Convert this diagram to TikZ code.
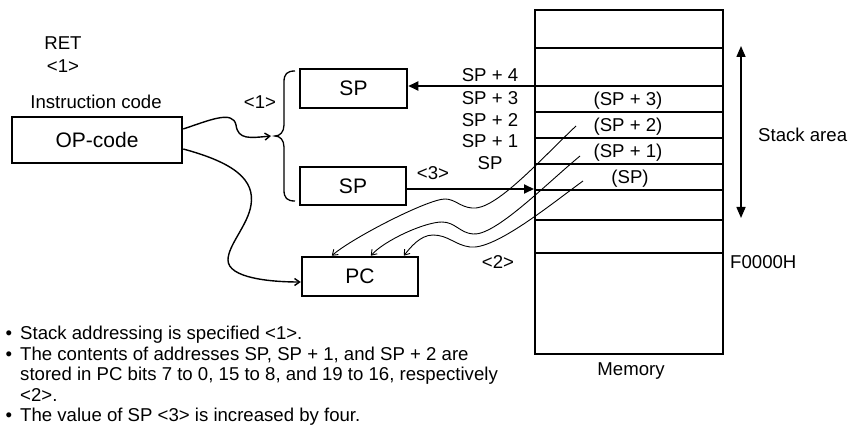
\documentclass[tikz,border=0pt]{standalone}
\usepackage{fontspec}
\setmainfont{Liberation Sans}
\usetikzlibrary{arrows.meta,calc}
\tikzset{
  lbl/.style={font=\fontsize{18.6}{21.5}\selectfont, inner sep=0pt, anchor=base},
  box/.style={draw, line width=2.5pt, inner sep=0pt, font=\fontsize{21}{24}\selectfont},
  thinline/.style={line width=1.2pt},
  thickline/.style={line width=2.2pt},
  bigarrow/.style={line width=1.8pt, -{Triangle[length=10pt,width=9pt]}},
  wave/.style={line width=0.9pt, -{Straight Barb[length=5pt,width=7pt]}},
  wave2/.style={line width=1.4pt, -{Straight Barb[length=5pt,width=7pt]}}
}
\begin{document}
\begin{tikzpicture}[x=1pt,y=-1pt]
\useasboundingbox (0,0) rectangle (850,427);

% texts at left
\node[lbl] (ret) at (63,49.7) {RET};
\node[lbl] (ret1) at (63,72.7) {<1>};
\node[lbl] (ic) at (96,108.7) {Instruction code};
\node[lbl] (one) at (260,108.7) {<1>};

% boxes
\node[box, minimum width=170pt, minimum height=46pt] (op) at (97,140) {OP-code};
\node[box, minimum width=107pt, minimum height=39pt] (sp1) at (353.5,88.5) {SP};
\node[box, minimum width=106pt, minimum height=38pt] (sp2) at (353,186) {SP};
\node[box, minimum width=116pt, minimum height=39pt] (pc) at (360,276.5) {PC};

% memory
\node[draw, line width=2pt, inner sep=0pt, minimum width=188pt, minimum height=344pt] (mem) at (629,182) {};
\foreach \yy in {48,86,190,220,253} {
  \draw[thinline] (mem.west |- 0,\yy) -- (mem.east |- 0,\yy);
}
\foreach \yy in {112,138,164} {
  \draw[thickline] (mem.west |- 0,\yy) -- (mem.east |- 0,\yy);
}
\node[lbl] (m3) at (628,105.5) {(SP + 3)};
\node[lbl] (m2) at (628,131.5) {(SP + 2)};
\node[lbl] (m1) at (628,157.5) {(SP + 1)};
\node[lbl] (m0) at (630,183.5) {(SP)};
\node[lbl] (memlbl) at (631,375.7) {Memory};

% SP labels
\node[lbl] (s4) at (490,81.7) {SP + 4};
\node[lbl] (s3) at (490,104.7) {SP + 3};
\node[lbl] (s2) at (490,126.7) {SP + 2};
\node[lbl] (s1) at (490,147.7) {SP + 1};
\node[lbl] (s0) at (490,169.7) {SP};
\node[lbl] (three) at (433,179.7) {<3>};
\node[lbl] (two) at (498,268.7) {<2>};

% stack area
\coordinate (sa1) at (741,46);
\coordinate (sa2) at (741,218);
\draw[line width=1.5pt, {Triangle[length=11pt,width=9pt]}-{Triangle[length=11pt,width=9pt]}] (sa1) -- (sa2);
\node[lbl, anchor=base west] (stk) at (758,141.7) {Stack area};
\node[lbl, anchor=base west] (f0) at (730,268.7) {F0000H};

% arrows SP <-> memory
\draw[bigarrow] (mem.west |- 0,86) -- (sp1.east |- 0,86);
\draw[bigarrow] (sp2.east |- 0,189) -- (mem.west |- 0,189);

% brace
\coordinate (bt) at (275,136);
\draw[line width=1.3pt] (295,71) .. controls (287,71) and (284,74) .. (284,82) -- (284,125)
  .. controls (284,132) and (280,136) .. (bt)
  .. controls (280,136) and (284,140) .. (284,147) -- (284,190)
  .. controls (284,198) and (287,201) .. (295,201);

% curves from OP-code
\draw[wave2] (op.east |- 0,129) .. controls (210,120) and (233,110) .. (236,125)
  .. controls (238,140) and (250,138) .. ([xshift=-4pt]bt);
\draw[wave2] (op.east |- 0,149) .. controls (235,163) and (255,180) .. (251,205)
  .. controls (248,225) and (228,245) .. (228,260)
  .. controls (228,278) and (270,282) .. (pc.west |- 0,282);

% wavy curves from memory to PC
\coordinate (c1) at (576,126);
\coordinate (c2) at (580,156);
\coordinate (c3) at (583,181);
\draw[wave] (c1) .. controls (540,160) and (495,211) .. (472,208)
  .. controls (460,207) and (455,199) .. (445,199)
  .. controls (428,199) and (352,238) .. ([xshift=31pt]pc.north west);
\draw[wave] (c2) .. controls (545,185) and (495,236) .. (473,234)
  .. controls (460,233) and (455,222) .. (442,222)
  .. controls (425,222) and (385,240) .. ([xshift=70pt]pc.north west);
\draw[wave] (c3) .. controls (550,205) and (495,250) .. (470,247)
  .. controls (455,245) and (448,235) .. (433,235)
  .. controls (420,235) and (410,248) .. ([xshift=103pt]pc.north west);

% bullets
\foreach \yy/\txt [count=\i] in {339.7/Stack addressing is specified <1>.,
  360.2/{The contents of addresses SP, SP + 1, and SP + 2 are},
  380.7/{stored in PC bits 7 to 0, 15 to 8, and 19 to 16, respectively},
  401.2/<2>.,
  421.7/The value of SP <3> is increased by four.} {
  \node[lbl, anchor=base west] (b\i) at (20,\yy) {\txt};
}
\node[lbl] (d1) at (9,339.7) {•};
\node[lbl] (d2) at (9,360.2) {•};
\node[lbl] (d5) at (9,421.7) {•};
\end{tikzpicture}
\end{document}
